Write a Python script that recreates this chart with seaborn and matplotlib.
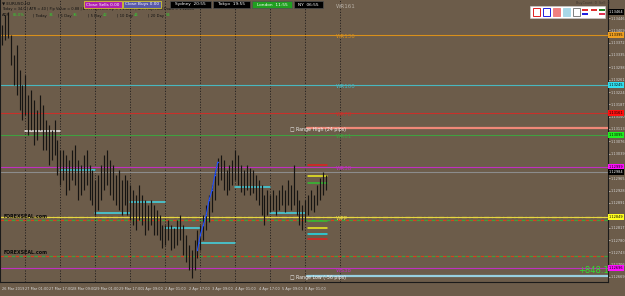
import matplotlib
matplotlib.use("Agg")
import matplotlib.pyplot as plt
import matplotlib.transforms as mtransforms
from matplotlib.patches import Rectangle
import seaborn as sns

# ---------------- data ----------------
highs = [1.13425, 1.13455, 1.13464, 1.13395, 1.13335, 1.13365, 1.13290, 1.13245, 1.13275, 1.13215,
         1.13230, 1.13200, 1.13170, 1.13215, 1.13185, 1.13140, 1.13125, 1.13110, 1.13140, 1.13080,
         1.13050, 1.13050, 1.13035, 1.13020, 1.13050, 1.13065, 1.13020, 1.13005, 1.13035, 1.13050,
         1.13005, 1.12990, 1.12960, 1.12975, 1.13005, 1.13035, 1.13050, 1.13020, 1.13005, 1.12975,
         1.12990, 1.12960, 1.12975, 1.12960, 1.12945, 1.12930, 1.12915, 1.12945, 1.12915, 1.12900,
         1.12885, 1.12900, 1.12885, 1.12870, 1.12855, 1.12825, 1.12825, 1.12840, 1.12825, 1.12816,
         1.12840, 1.12855, 1.12825, 1.12795, 1.12765, 1.12750, 1.12780, 1.12810, 1.12825, 1.12855,
         1.12885, 1.12915, 1.12945, 1.12990, 1.13026, 1.13035, 1.13020, 1.12990, 1.13005, 1.13020,
         1.13050, 1.13035, 1.13005, 1.12990, 1.13005, 1.12996, 1.12990, 1.12975, 1.12960, 1.12945,
         1.12915, 1.12930, 1.12915, 1.12930, 1.12915, 1.12930, 1.12945, 1.12930, 1.12960, 1.12945,
         1.13005, 1.12930, 1.12900, 1.12885, 1.12900, 1.12915, 1.12930, 1.12915, 1.12945, 1.12966,
         1.12984, 1.12975]
lows = [1.13365, 1.13380, 1.13386, 1.13305, 1.13245, 1.13215, 1.13170, 1.13140, 1.13155, 1.13095,
        1.13110, 1.13065, 1.13080, 1.13110, 1.13050, 1.13050, 1.13005, 1.13020, 1.13035, 1.12975,
        1.12945, 1.12960, 1.12915, 1.12930, 1.12960, 1.12945, 1.12900, 1.12915, 1.12930, 1.12945,
        1.12900, 1.12885, 1.12855, 1.12870, 1.12900, 1.12930, 1.12945, 1.12915, 1.12900, 1.12885,
        1.12870, 1.12855, 1.12885, 1.12855, 1.12840, 1.12825, 1.12810, 1.12840, 1.12825, 1.12795,
        1.12810, 1.12825, 1.12795, 1.12795, 1.12780, 1.12756, 1.12765, 1.12780, 1.12750, 1.12756,
        1.12765, 1.12780, 1.12735, 1.12714, 1.12690, 1.12666, 1.12690, 1.12726, 1.12750, 1.12780,
        1.12810, 1.12834, 1.12864, 1.12900, 1.12945, 1.12960, 1.12930, 1.12915, 1.12930, 1.12945,
        1.12960, 1.12945, 1.12924, 1.12915, 1.12930, 1.12915, 1.12921, 1.12900, 1.12885, 1.12855,
        1.12825, 1.12855, 1.12864, 1.12870, 1.12855, 1.12870, 1.12885, 1.12864, 1.12885, 1.12870,
        1.12885, 1.12855, 1.12825, 1.12810, 1.12834, 1.12855, 1.12870, 1.12864, 1.12885, 1.12900,
        1.12915, 1.12930]

blue_bars = [67, 68, 69, 70, 71, 72, 73, 74]
blue_vals = [1.12750, 1.12795, 1.12825, 1.12855, 1.12900, 1.12930, 1.12975, 1.13014]

seg_starts = [8, 20, 32, 44, 56, 68, 80, 92]
seg_ends = [20, 32, 44, 56, 68, 80, 92, 104]
seg_levels = [1.13107, 1.12990, 1.12861, 1.12894, 1.12816, 1.12771, 1.12939, 1.12861]
seg_colors = ["#f0f0f0", "#40d8e8", "#40d8e8", "#40d8e8", "#40d8e8", "#40d8e8", "#40d8e8", "#40d8e8"]

short_levels = [1.13005, 1.12972, 1.12951, 1.12837, 1.12816, 1.12798, 1.12783]
short_colors = ["#e02020", "#f0f020", "#30c030", "#30c030", "#f0f020", "#20e0f0", "#e02020"]

level_names = ["WR136", "WR100", "WR78", "WR61", "WR38", "", "WPP", "WS38"]
level_prices = [1.13395, 1.13245, 1.13161, 1.13095, 1.12999, 1.12984, 1.12849, 1.12696]
level_colors = ["#d8901c", "#48b8c0", "#c8302a", "#40a040", "#c030c0", "#8c8c8c", "#e8d840", "#c030c0"]

range_high, range_low = 1.13116, 1.12672
dash_levels = [1.12843, 1.12735]

sep_bars = [8, 20, 32, 44, 56, 68, 80, 92, 104, 116]
xtick_bars = [0, 8, 16, 24, 32, 40, 48, 56, 64, 72, 80, 88, 96, 104]
xtick_labels = ["26 Mar 2019", "27 Mar 01:00", "27 Mar 17:00", "28 Mar 09:00", "29 Mar 01:00",
                "29 Mar 17:00", "1 Apr 09:00", "2 Apr 01:00", "2 Apr 17:00", "3 Apr 09:00",
                "4 Apr 01:00", "4 Apr 17:00", "5 Apr 09:00", "8 Apr 01:00"]
# tick labels visible on the price scale (those hidden under the price boxes omitted)
ytick_vals = [1.13446, 1.13409, 1.13372, 1.13335, 1.13298, 1.13261, 1.13224, 1.13187, 1.13150,
              1.13113, 1.13076, 1.13039, 1.12965, 1.12928, 1.12891, 1.12817,
              1.12780, 1.12743, 1.12706, 1.12669]

BG = "#6c5c4a"

# ---------------- figure ----------------
sns.set_theme(style="dark", rc={"axes.facecolor": BG, "figure.facecolor": BG})
plt.rcParams["font.family"] = ["DejaVu Sans"]

W, H = 625, 296
fig = plt.figure(figsize=(W / 100, H / 100), dpi=100)
ax = fig.add_axes([0.0, 14 / H, 608 / W, 282 / H])
ax.set_facecolor(BG)
ax.set_xlim(-0.7, 207.8)
ax.set_ylim(1.12654, 1.13500)

# period separators
for b in sep_bars:
    ax.axvline(b, color="#262220", lw=0.7, ls=(0, (1.2, 1.6)), zorder=1)

# level lines
for name, p, c in zip(level_names, level_prices, level_colors):
    ax.axhline(p, color=c, lw=0.8, zorder=2)
ax.axhline(level_prices[6], color="#e8d840", lw=0.9, ls=(0, (4, 2, 1, 2)), zorder=2)
for p in dash_levels:
    ax.axhline(p - 0.00002, color="#d84020", lw=0.9, ls=(0, (3, 3)), zorder=2)
    ax.axhline(p - 0.00002, color="#40a040", lw=0.9, ls=(3, (3, 3)), zorder=2)

# range lines
sns.lineplot(x=[104.5, 207.8], y=[range_high, range_high], color="#f08878", lw=1.6, ax=ax, zorder=3)
sns.lineplot(x=[104.5, 207.8], y=[range_low, range_low], color="#98d0e0", lw=1.6, ax=ax, zorder=3)

# session segments
for s, e, lv, c in zip(seg_starts, seg_ends, seg_levels, seg_colors):
    sns.lineplot(x=[s, e], y=[lv, lv], color=c, lw=1.1, ax=ax, zorder=4)
for lv, c in zip(short_levels, short_colors):
    sns.lineplot(x=[104.8, 111.4], y=[lv, lv], color=c, lw=1.1, ax=ax, zorder=4)

# candles
idx = list(range(len(highs)))
ax.vlines(idx, lows, highs, color="#161412", lw=0.85, zorder=5)

# blue trend
sns.lineplot(x=blue_bars, y=blue_vals, color="#2050ff", lw=0.8, ax=ax, zorder=6,
             marker="o", markersize=1.0, markeredgewidth=0)

# level labels
lab_x = 114.5
ax.text(lab_x, 1.13482, "WR161", color="#b8b0a6", fontsize=4, va="center", zorder=7)
for name, p, c in zip(level_names, level_prices, level_colors):
    if name:
        ax.text(lab_x, p - 0.00006, name, color=c, fontsize=4, va="center", zorder=7)
ax.text(98.7, range_high - 0.00005, "\u25a1 Range High (24 pips)", color="#f0f0f0", fontsize=3.4, va="center", zorder=7)
ax.text(98.7, range_low - 0.00006, "\u25a1 Range Low (-56 pips)", color="#f0f0f0", fontsize=3.4, va="center", zorder=7)
ax.text(197.5, 1.12688, "+848.1", color="#30e030", fontsize=6, va="center", ha="left", zorder=7)
for p in [1.12849, 1.12741]:
    ax.text(0.5, p, "FOREXSEAL.com", color="#0a0a0a", fontsize=3.4, fontweight="bold", va="center", zorder=7)

# axes styling
ax.set_xticks(xtick_bars)
ax.set_xticklabels(xtick_labels)
ax.set_yticks(ytick_vals)
ax.set_yticklabels([f"{v:.5f}" for v in ytick_vals])
ax.yaxis.tick_right()
ax.tick_params(axis="y", colors="#d8d8d8", labelsize=2.5, length=1.2, width=0.5, pad=0.6)
ax.tick_params(axis="x", colors="#d8d8d8", labelsize=2.5, length=2, width=0.5, pad=1.5)
for lbl in ax.get_xticklabels():
    lbl.set_horizontalalignment("left")
ax.grid(False)
ax.spines["top"].set_visible(False)
for side in ["left", "right", "bottom"]:
    ax.spines[side].set_visible(True)
    ax.spines[side].set_color("#1a1a1a")
    ax.spines[side].set_linewidth(0.8)
ax.set_xlabel("")
ax.set_ylabel("")

# price boxes on axis
trans = mtransforms.blended_transform_factory(ax.transAxes, ax.transData)
box_prices = [1.13464, 1.13395, 1.13245, 1.13161, 1.13095, 1.12999, 1.12984, 1.12849, 1.12696]
box_colors = ["#000000", "#f0a020", "#30e0f0", "#ff1010", "#20f020", "#ff10ff", "#000000", "#ffff20", "#ff10ff"]
box_text = ["#ffffff", "#000000", "#000000", "#000000", "#000000", "#000000", "#ffffff", "#000000", "#000000"]
for p, c, t in zip(box_prices, box_colors, box_text):
    ax.text(1.0015, p, f"{p:.5f}", transform=trans, color=t, fontsize=2.5, va="center", ha="left",
            zorder=8, clip_on=False,
            bbox=dict(boxstyle="square,pad=0.2", fc=c, ec="none"))


# ---------------- overlays (figure pixel helpers) ----------------
def fx(x):
    return x / W


def fy(y):
    return 1 - y / H


fig.text(fx(2), fy(3.5), "\u25bc EURUSD,H2", fontsize=3.0, color="#101010", va="center")
fig.text(fx(2), fy(9), "Today = 34.0 | ATR = 40 | Pip Value = 0.88 | ATR Projected Up = 1.13209 | ATR Projected Down = 1.12605",
         fontsize=2.6, color="#101010", va="center")
row = [("ADR", "#101010", 2), ("85.0%", "#30d030", 13), ("| Today", "#101010", 33), ("34", "#30d030", 49),
       ("| 1 Day", "#101010", 58), ("36", "#30d030", 73), ("| 5 Day", "#101010", 88), ("42", "#30d030", 103),
       ("| 10 Day", "#101010", 117), ("44", "#30d030", 134), ("| 20 Day", "#101010", 148), ("54", "#30d030", 166)]
for txt, col, xx in row:
    fig.text(fx(xx), fy(15.5), txt, fontsize=2.7, color=col, va="center")

boxes = [(84, 122, "Close Sells 0.00", "#b020b0", "#e8e020", "#ffffff"),
         (123, 161, "Close Buys 0.00", "#5858a8", "#e8e020", "#ffffff"),
         (170, 211, "Sydney  20:55", "#000000", "#505050", "#ffffff"),
         (213, 250, "Tokyo  19:55", "#000000", "#505050", "#ffffff"),
         (252, 292, "London  11:55", "#20a020", "#505050", "#ffffff"),
         (294, 323, "NY  06:55", "#000000", "#505050", "#ffffff")]
for x0, x1, txt, fc, ec, tc in boxes:
    fig.patches.append(Rectangle((fx(x0), fy(8)), fx(x1 - x0), 7 / H, transform=fig.transFigure,
                                 fc=fc, ec=ec, lw=0.5, zorder=9))
    fig.text(fx((x0 + x1) / 2), fy(4.5), txt, fontsize=3.1, color=tc, ha="center", va="center", zorder=10)

# toolbar top right
fig.patches.append(Rectangle((fx(530), fy(18)), fx(75), 12 / H, transform=fig.transFigure,
                             fc="#ffffff", ec="#d0d0d0", lw=0.4, zorder=9))
icons = [(533, "#ffffff", "#e02020"), (543, "#ffffff", "#2020e0"), (553, "#f08080", "#f08080"),
         (563, "#a8d8e8", "#a8d8e8"), (573, "#ffffff", "#808080")]
for x0, fc, ec in icons:
    fig.patches.append(Rectangle((fx(x0), fy(16)), fx(7), 8 / H, transform=fig.transFigure,
                                 fc=fc, ec=ec, lw=0.7, zorder=10))
line_icons = [(582, "#e03030", "#2020e0"), (591, "#e03030", "#ffffff"), (599, "#208020", "#e03050")]
for x0, c1, c2 in line_icons:
    fig.patches.append(Rectangle((fx(x0), fy(10.5)), fx(6), 1.2 / H, transform=fig.transFigure, fc=c1, ec="none", zorder=10))
    fig.patches.append(Rectangle((fx(x0), fy(14.5)), fx(6), 1.8 / H, transform=fig.transFigure, fc=c2, ec="none", zorder=10))
fig.text(fx(576), fy(3), "BuyCount: 0  Sell: 0", fontsize=2.4, color="#403830", va="center")

fig.savefig("out.png", dpi=100, facecolor=BG)
